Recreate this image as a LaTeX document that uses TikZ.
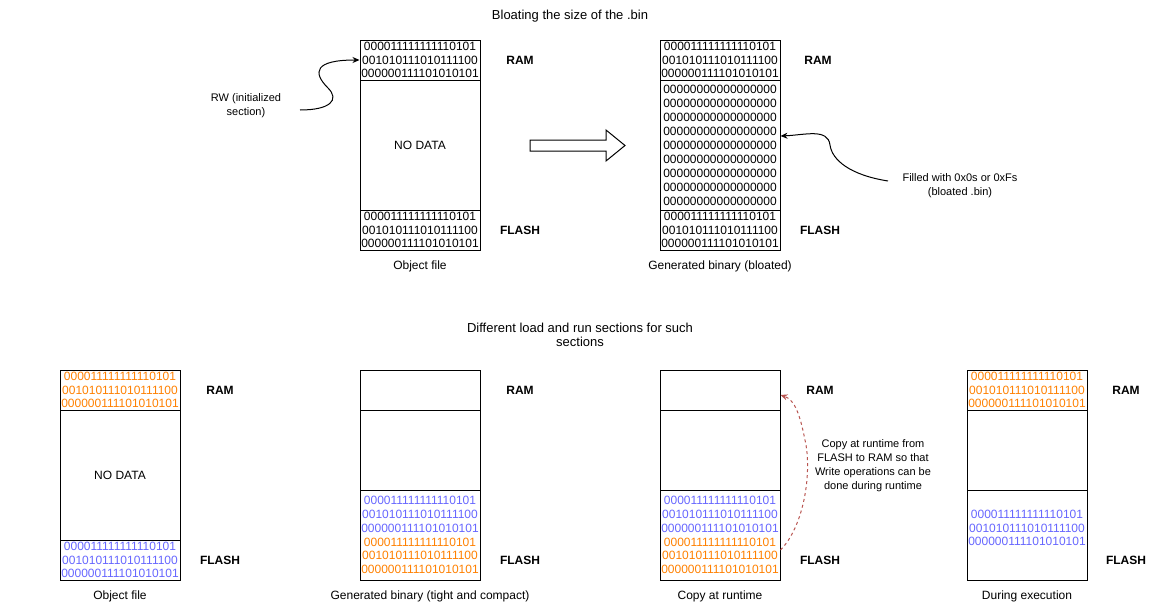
\documentclass[tikz,border=0pt]{standalone}
\usepackage{fontspec}
\setmainfont{Liberation Sans}
\usepackage{xcolor}
\usepackage{tikz}
\usetikzlibrary{arrows.meta}
\usetikzlibrary{positioning}

\definecolor{bitorange}{HTML}{FF8000}
\definecolor{bitblue}{HTML}{6666FF}
\definecolor{copyred}{HTML}{B85450}

\begin{document}
\begin{tikzpicture}[
	x=1pt, y=-1pt,
	line width=1pt,
	font=\fontsize{12}{14}\selectfont
]
\tikzset{
    seg/.style = {rectangle, draw=black, align=center, minimum width=120pt, inner sep=0pt, font=\fontsize{12}{13.8}\selectfont},
    memlbl/.style = {font=\fontsize{12}{14}\selectfont\bfseries},
    capt/.style = {align=center},
    note/.style = {align=center, font=\fontsize{11}{14}\selectfont},
    curvearrow/.style = {-{Stealth[length=7pt,width=6pt]}}
}
\useasboundingbox (0,0) rectangle (1167,611);

% top part
\node[font=\fontsize{13}{15}\selectfont] (titletop) at (570,16) {Bloating the size of the .bin};

\node[seg,minimum height=40pt] (oram) at (420,60) {000011111111110101\\001010111010111100\\000000111101010101};
\node[seg,minimum height=130pt] (omid) at (420,145) {NO DATA};
\node[seg,minimum height=40pt] (oflash) at (420,230) {000011111111110101\\001010111010111100\\000000111101010101};
\node[memlbl] (oramlbl) at (520,60) {RAM};
\node[memlbl] (oflashlbl) at (520,230) {FLASH};
\node[capt] (ocapt) at (420,266) {Object file};

\node[note] (rw) at (246,106) {RW (initialized\\section)};
\coordinate (rwtail) at (300,110);
\draw[curvearrow] (rwtail) .. controls (330,110) and (340,100) .. (328,88) .. controls (312,72) and (315,60) .. (oram.west);

\draw (530,140) -- (606,140) -- (606,130) -- (625,145.5) -- (606,161) -- (606,151) -- (530,151) -- cycle;

\node[seg,minimum height=40pt] (bram) at (720,60) {000011111111110101\\001010111010111100\\000000111101010101};
\node[seg,minimum height=130pt,font=\fontsize{12}{14}\selectfont] (bmid) at (720,145) {00000000000000000\\00000000000000000\\00000000000000000\\00000000000000000\\00000000000000000\\00000000000000000\\00000000000000000\\00000000000000000\\00000000000000000};
\node[seg,minimum height=40pt] (bflash) at (720,230) {000011111111110101\\001010111010111100\\000000111101010101};
\node[memlbl] (bramlbl) at (818,60) {RAM};
\node[memlbl] (bflashlbl) at (820,230) {FLASH};
\node[capt] (bcapt) at (720,266) {Generated binary (bloated)};

\node[note] (fill) at (960,186) {Filled with 0x0s or 0xFs\\(bloated .bin)};
\coordinate (filltail) at (888,181);
\draw[curvearrow] (filltail) .. controls (850,175) and (832,160) .. (830,145) .. controls (828,128) and (805,135) .. ([yshift=9pt]bmid.east);

% bottom part
\node[font=\fontsize{13}{14}\selectfont,align=center] (titlebottom) at (580,335) {Different load and run sections for such\\sections};

\node[seg,minimum height=40pt,text=bitorange] (pram) at (120,390) {000011111111110101\\001010111010111100\\000000111101010101};
\node[seg,minimum height=130pt] (pmid) at (120,475) {NO DATA};
\node[seg,minimum height=40pt,text=bitblue] (pflash) at (120,560) {000011111111110101\\001010111010111100\\000000111101010101};
\node[memlbl] (pramlbl) at (220,390) {RAM};
\node[memlbl] (pflashlbl) at (220,560) {FLASH};
\node[capt] (pcapt) at (120,596) {Object file};

\node[seg,minimum height=40pt] (gram) at (420,390) {};
\node[seg,minimum height=80pt] (gmid) at (420,450) {};
\node[seg,minimum height=90pt] (gflash) at (420,535) {\textcolor{bitblue}{000011111111110101}\\\textcolor{bitblue}{001010111010111100}\\\textcolor{bitblue}{000000111101010101}\\\textcolor{bitorange}{000011111111110101}\\\textcolor{bitorange}{001010111010111100}\\\textcolor{bitorange}{000000111101010101}};
\node[memlbl] (gramlbl) at (520,390) {RAM};
\node[memlbl] (gflashlbl) at (520,560) {FLASH};
\node[capt] (gcapt) at (430,596) {Generated binary (tight and compact)};

\node[seg,minimum height=40pt] (cram) at (720,390) {};
\node[seg,minimum height=80pt] (cmid) at (720,450) {};
\node[seg,minimum height=90pt] (cflash) at (720,535) {\textcolor{bitblue}{000011111111110101}\\\textcolor{bitblue}{001010111010111100}\\\textcolor{bitblue}{000000111101010101}\\\textcolor{bitorange}{000011111111110101}\\\textcolor{bitorange}{001010111010111100}\\\textcolor{bitorange}{000000111101010101}};
\node[memlbl] (cramlbl) at (820,390) {RAM};
\node[memlbl] (cflashlbl) at (820,560) {FLASH};
\node[capt] (ccapt) at (720,596) {Copy at runtime};

\node[note] (copynote) at (873,466) {Copy at runtime from\\FLASH to RAM so that\\Write operations can be\\done during runtime};
\draw[copyred,dash pattern=on 3pt off 3pt,curvearrow] ([yshift=-15pt]cflash.east) .. controls (805,525) and (812,470) .. (805,440) .. controls (800,415) and (795,400) .. ([yshift=-5pt]cram.east);

\node[seg,minimum height=40pt,text=bitorange] (dram) at (1027,390) {000011111111110101\\001010111010111100\\000000111101010101};
\node[seg,minimum height=80pt] (dmid) at (1027,450) {};
\node[seg,minimum height=90pt] (dflash) at (1027,535) {};
\node[seg,draw=none,text=bitblue] (dflashbits) at (1027,528) {000011111111110101\\001010111010111100\\000000111101010101};
\node[memlbl] (dramlbl) at (1126,390) {RAM};
\node[memlbl] (dflashlbl) at (1126,560) {FLASH};
\node[capt] (dcapt) at (1027,596) {During execution};
\end{tikzpicture}
\end{document}
